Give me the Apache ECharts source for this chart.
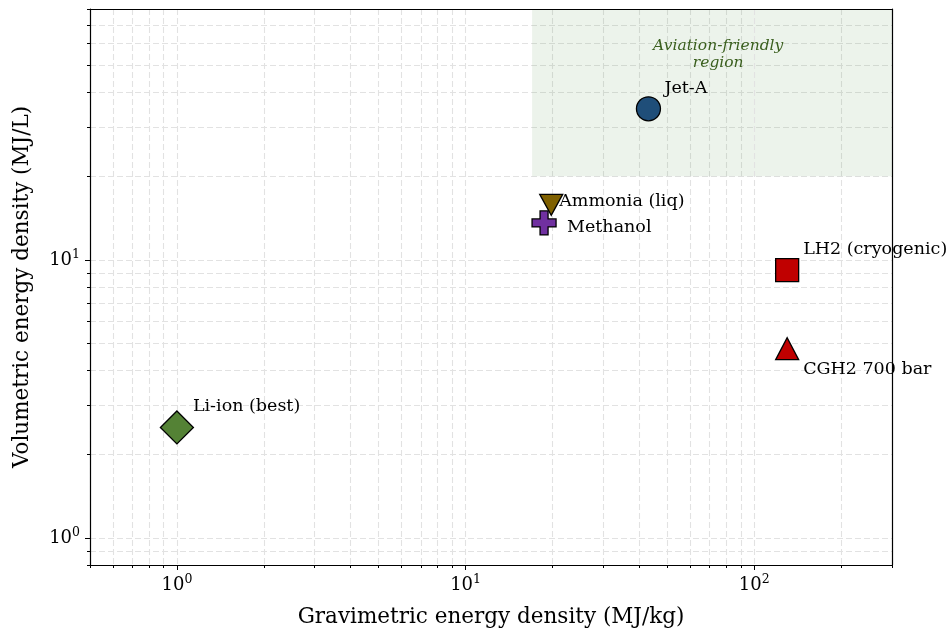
<!DOCTYPE html>
<html><head><meta charset="utf-8">
<script src="https://cdn.jsdelivr.net/npm/echarts@6/dist/echarts.min.js"></script>
<style>html,body{margin:0;padding:0;background:#fff}#c{width:947px;height:630px}</style>
</head><body><div id="c"></div>
<script>
// ---- data ----
const fuels = ['Li-ion (best)', 'Jet-A', 'LH2 (cryogenic)', 'CGH2 700 bar', 'Methanol', 'Ammonia (liq)'];
const gravimetric = [1.0, 43, 130, 130, 18.7, 19.8];   // MJ/kg
const volumetric  = [2.5, 35, 9.2, 4.8, 13.6, 15.8];   // MJ/L
const xMajorTicks = [1, 10, 100];
const xMinorTicks = [0.5, 0.6, 0.7, 0.8, 0.9, 2, 3, 4, 5, 6, 7, 8, 9, 20, 30, 40, 50, 60, 70, 80, 90, 200, 300];
const yMajorTicks = [1, 10];
const yMinorTicks = [0.8, 0.9, 2, 3, 4, 5, 6, 7, 8, 9, 20, 30, 40, 50, 60, 70, 80];
const xRange = [0.5, 300];
const yRange = [0.8, 80];
const regionX = [17, 300];
const regionY = [20, 80];
const regionText = 'Aviation-friendly\nregion';
const regionTextAt = [75, 56];

// ---- styles ----
const FONT = 'DejaVu Serif';
const plusPath = 'path://M1,0H2V1H3V2H2V3H1V2H0V1H1Z';
const symbols = ['diamond', 'circle', 'rect', 'triangle', plusPath, 'triangle'];
const rotations = [0, 0, 0, 0, 0, 180];
const sizes = [[33, 33], 24, 23, [23, 22], 24, [23, 21]];
const colors = ['#548235', '#1f4e79', '#c00000', '#c00000', '#7030a0', '#7f6000'];
const labelOffsets = [[16, -21], [16, -20], [16, -21], [16, 21], [23, 5], [8, -3]];

const gridLine = { show: true, lineStyle: { color: '#e2e2e2', type: [6, 3], width: 1.1 } };
const supFmt = v => '{b|10}{sup|' + Math.round(Math.log10(v)) + '}';
const supRich = {
  b: { fontFamily: FONT, fontSize: 18, color: '#000', lineHeight: 24 },
  sup: { fontFamily: FONT, fontSize: 12.5, color: '#000', lineHeight: 16, verticalAlign: 'top' }
};

const pts = fuels.map((n, i) => ({
  name: n,
  value: [gravimetric[i], volumetric[i]],
  symbol: symbols[i],
  symbolRotate: rotations[i],
  symbolSize: sizes[i],
  itemStyle: { color: colors[i], borderColor: '#000', borderWidth: 1.3, opacity: 1 },
  label: {
    show: true, position: 'inside', align: 'left', verticalAlign: 'middle',
    offset: labelOffsets[i], formatter: n, color: '#000', opacity: 1,
    fontFamily: FONT, fontSize: 17.5
  }
}));

const borderAxis = { show: true, lineStyle: { color: '#000', width: 1.2 } };

const chart = echarts.init(document.getElementById('c'));
chart.setOption({
  animation: false,
  backgroundColor: '#fff',
  grid: { left: 90, right: 55, top: 9, bottom: 65, show: false, containLabel: false, outerBoundsMode: 'none' },
  xAxis: [
    {
      type: 'log', logBase: 10, min: xRange[0], max: xRange[1], position: 'bottom',
      name: 'Gravimetric energy density (MJ/kg)', nameLocation: 'middle', nameGap: 41,
      nameTextStyle: { fontFamily: FONT, fontSize: 21.5, color: '#000' },
      axisLine: borderAxis,
      axisTick: { show: true, length: 5, customValues: xMajorTicks, lineStyle: { color: '#000' } },
      axisLabel: { customValues: xMajorTicks, formatter: supFmt, rich: supRich, margin: 8 },
      splitLine: gridLine, z: 3
    },
    {
      type: 'log', logBase: 10, min: xRange[0], max: xRange[1], position: 'bottom',
      axisLine: { show: false },
      axisTick: { show: true, length: 3, customValues: xMinorTicks, lineStyle: { color: '#000' } },
      axisLabel: { show: false },
      splitLine: gridLine
    },
    {
      type: 'log', logBase: 10, min: xRange[0], max: xRange[1], position: 'top',
      axisLine: borderAxis, axisTick: { show: false }, axisLabel: { show: false }, splitLine: { show: false }, z: 3
    }
  ],
  yAxis: [
    {
      type: 'log', logBase: 10, min: yRange[0], max: yRange[1], position: 'left',
      name: 'Volumetric energy density (MJ/L)', nameLocation: 'middle', nameGap: 57,
      nameTextStyle: { fontFamily: FONT, fontSize: 21.5, color: '#000' },
      axisLine: borderAxis,
      axisTick: { show: true, length: 5, customValues: yMajorTicks, lineStyle: { color: '#000' } },
      axisLabel: { customValues: yMajorTicks, formatter: supFmt, rich: supRich, margin: 10 },
      splitLine: gridLine, z: 3
    },
    {
      type: 'log', logBase: 10, min: yRange[0], max: yRange[1], position: 'left',
      axisLine: { show: false },
      axisTick: { show: true, length: 3, customValues: yMinorTicks, lineStyle: { color: '#000' } },
      axisLabel: { show: false },
      splitLine: gridLine
    },
    {
      type: 'log', logBase: 10, min: yRange[0], max: yRange[1], position: 'right',
      axisLine: borderAxis, axisTick: { show: false }, axisLabel: { show: false }, splitLine: { show: false }, z: 3
    }
  ],
  series: [
    {
      type: 'scatter', xAxisIndex: 0, yAxisIndex: 0, z: 2,
      itemStyle: { opacity: 1 },
      data: [{ value: regionTextAt, symbolSize: 0,
        label: { show: true, position: 'inside', formatter: regionText, color: '#3a5f1e',
          fontFamily: FONT, fontStyle: 'italic', fontSize: 15.5, lineHeight: 17, offset: [0, 2] } }],
      markArea: {
        silent: true,
        itemStyle: { color: 'rgba(84,150,70,0.11)' },
        data: [[{ coord: [regionX[0], regionY[0]] }, { coord: [regionX[1], regionY[1]] }]]
      }
    },
    {
      type: 'scatter', xAxisIndex: 0, yAxisIndex: 0, z: 5,
      data: pts
    }
  ]
});
</script></body></html>
